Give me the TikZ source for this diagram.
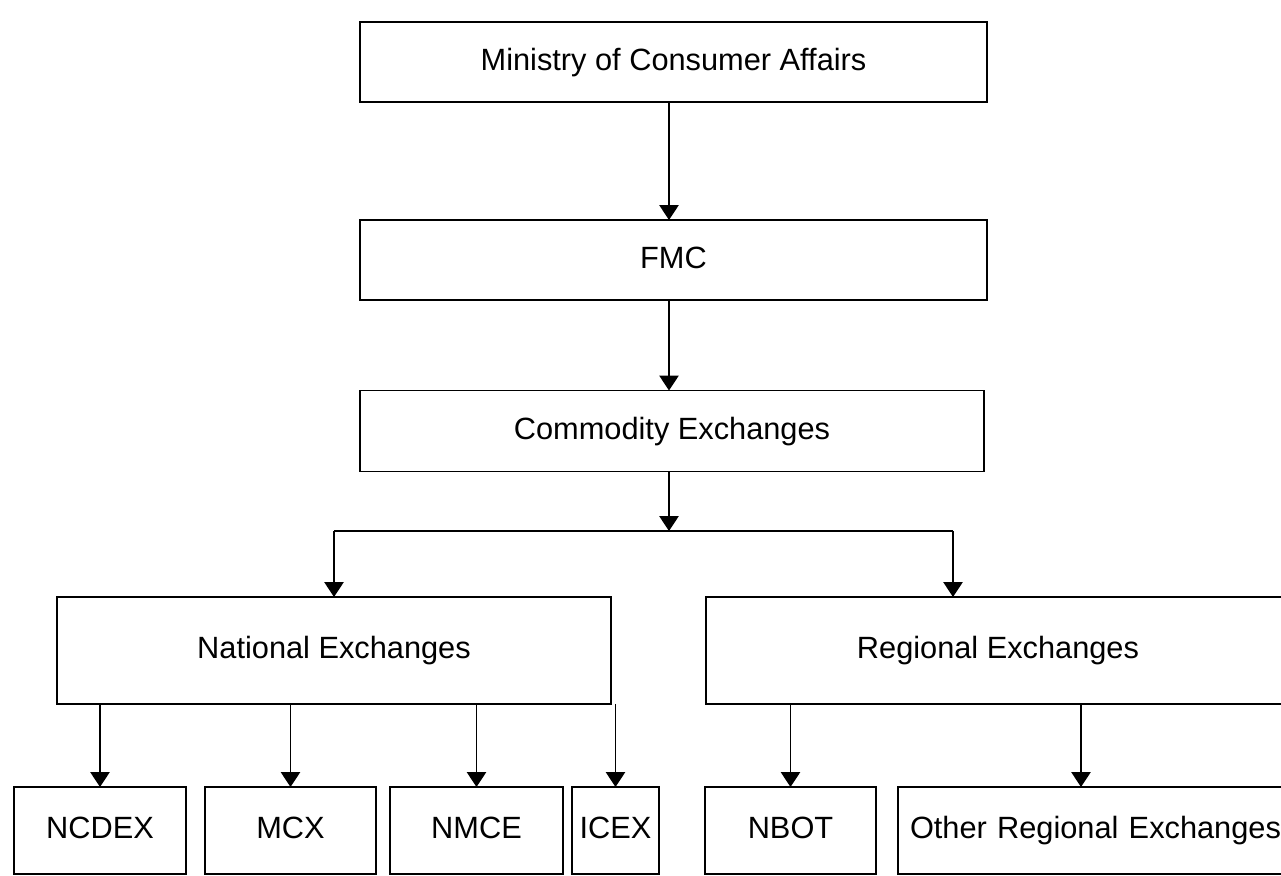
\documentclass[tikz,border=0pt]{standalone}
\usepackage{fontspec}
\setmainfont{Liberation Sans}
\usetikzlibrary{arrows.meta}
\tikzset{
    orgbox/.style={draw, line width=1.1pt, outer sep=0pt, inner sep=0pt, minimum height=1.6cm, text height=2.0ex, text depth=0.25ex, font=\fontsize{17.5}{20}\selectfont},
    arr/.style={-{Triangle[length=8.5pt, width=11pt]}, line width=0.9pt},
    branch/.style={line width=1.1pt}
}
\begin{document}
\begin{tikzpicture}
    \useasboundingbox (0, 0) rectangle (25.62, 17.52);
    \clip (0, 0) rectangle (25.62, 17.52);
    %Top chain
    \node[orgbox, minimum width=12.54cm] (mca) at (13.47, 16.28) {Ministry of Consumer Affairs};
    \node[orgbox, minimum width=12.54cm] (fmc) at (13.47, 12.32) {FMC};
    \node[orgbox, minimum width=12.48cm, minimum height=1.62cm] (comm) at (13.44, 8.90) {Commodity Exchanges};
    \coordinate (split) at (13.38, 6.90);
    \draw[arr] (mca.south -| split) -- (fmc.north -| split);
    \draw[arr] (fmc.south -| split) -- (comm.north -| split);
    %Exchange types
    \node[orgbox, minimum width=11.08cm, minimum height=2.14cm] (nat) at (6.68, 4.51) {National Exchanges};
    \node[orgbox, minimum width=11.68cm, minimum height=2.14cm] (reg) at (19.96, 4.51) {Regional Exchanges};
    \coordinate (regin) at (19.06, 5.58);
    \draw[arr] (comm.south -| split) -- (split);
    \draw[branch] (split -| nat.north) -- (split -| regin);
    \draw[arr] (split -| nat.north) -- (nat.north);
    \draw[arr] (split -| regin) -- (regin);
    %Exchanges
    \node[orgbox, minimum width=3.44cm, minimum height=1.74cm] (ncdex) at (2.00, 0.91) {NCDEX};
    \node[orgbox, minimum width=3.42cm, minimum height=1.74cm] (mcx) at (5.81, 0.91) {MCX};
    \node[orgbox, minimum width=3.46cm, minimum height=1.74cm] (nmce) at (9.53, 0.91) {NMCE};
    \node[orgbox, minimum width=1.74cm, minimum height=1.74cm] (icex) at (12.31, 0.91) {ICEX};
    \node[orgbox, minimum width=3.42cm, minimum height=1.74cm] (nbot) at (15.81, 0.91) {NBOT};
    \node[orgbox, minimum width=8.2cm, minimum height=1.74cm, inner xsep=0.24cm, text width=7.72cm, align=left] (other) at (22.06, 0.91) {Other Regional Exchanges};
    \coordinate (otherin) at (21.62, 1.78);
    \foreach \c in {ncdex, mcx, nmce, icex}{
        \draw[arr] (nat.south -| \c.north) -- (\c.north);
    };
    \draw[arr] (reg.south -| nbot.north) -- (nbot.north);
    \draw[arr] (reg.south -| otherin) -- (otherin);
\end{tikzpicture}
\end{document}
